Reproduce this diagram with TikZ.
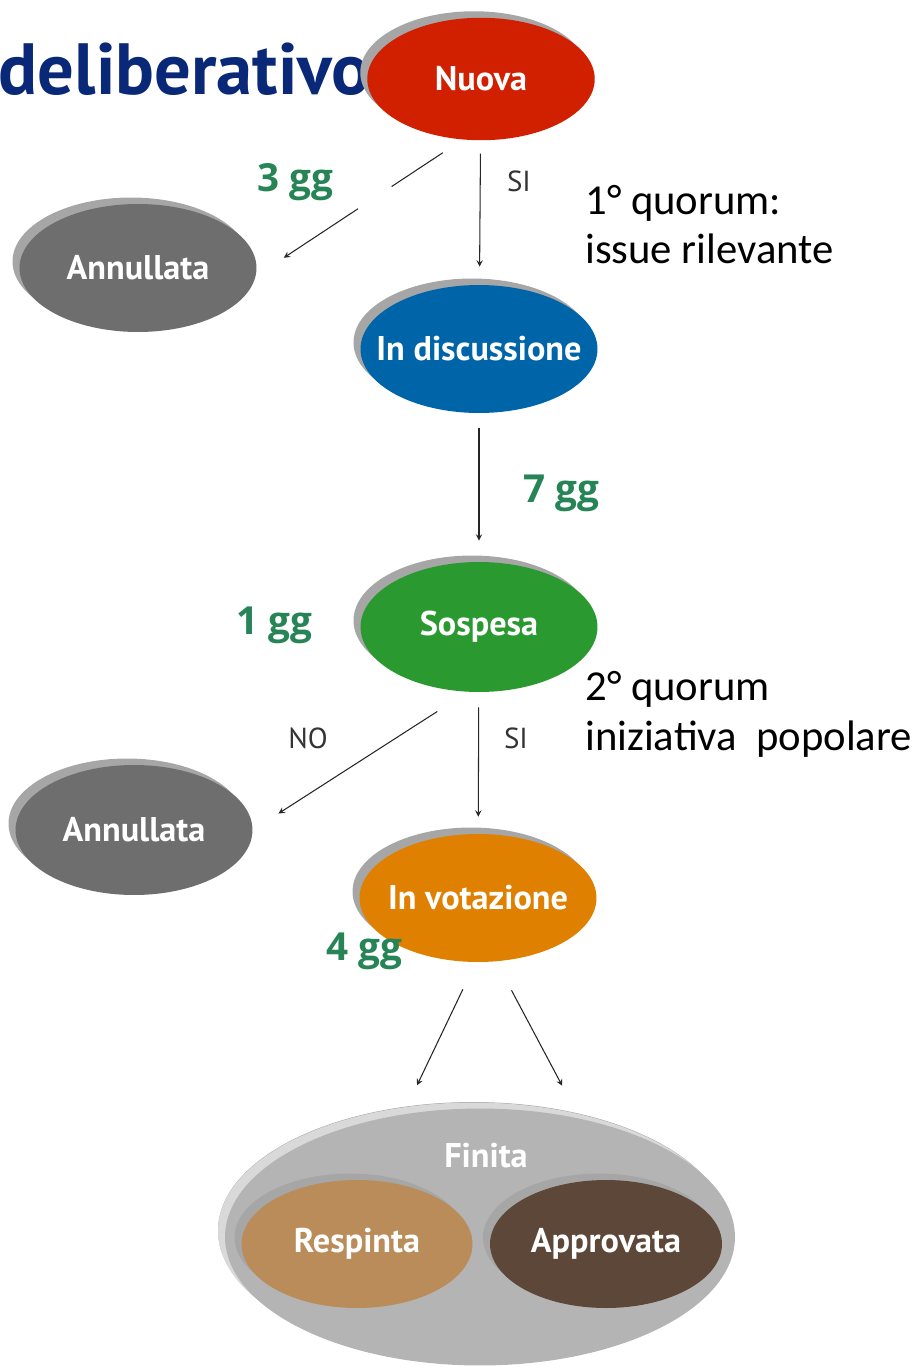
\documentclass[tikz,border=0pt]{standalone}
\usepackage{fontspec}
\usepackage{xcolor}
\usetikzlibrary{arrows,shapes.geometric,shadows,positioning}
\newfontfamily\ptsans{PT Sans}
\newfontfamily\opensans{Open Sans}
\newfontfamily\carlito{Carlito}
\definecolor{nuovared}{HTML}{D02000}
\definecolor{discblue}{HTML}{0064A8}
\definecolor{sospgreen}{HTML}{2A9A30}
\definecolor{votorange}{HTML}{E08000}
\definecolor{annulgrey}{HTML}{6E6E6E}
\definecolor{finitagrey}{HTML}{B4B4B4}
\definecolor{respintatan}{HTML}{B98C5A}
\definecolor{approvbrown}{HTML}{5D4738}
\definecolor{ggreen}{HTML}{278457}
\definecolor{titleblue}{HTML}{0A2878}

\begin{document}
\begin{tikzpicture}[x=0.02cm, y=-0.02cm,
statenode/.style={ellipse, draw=none, minimum width=4.74cm, minimum height=2.56cm, inner sep=-0.5cm,
  text=white, font=\ptsans\bfseries\fontsize{19.5}{23}\selectfont,
  general shadow={shadow xshift=-0.14cm, shadow yshift=0.13cm, fill=black!35}},
ggnode/.style={anchor=base, text=ggreen, font=\opensans\bfseries\fontsize{22}{26}\selectfont},
choicenode/.style={anchor=base, text=black!80, font=\ptsans\fontsize{16.5}{20}\selectfont},
quorumnode/.style={anchor=base west, inner sep=0pt, text=black, font=\carlito\fontsize{24.3}{28}\selectfont},
arr/.style={->, >=stealth, black!85, line width=0.6pt},
gapmark/.style={fill=white, sloped, minimum width=0.8cm, minimum height=0.3cm, inner sep=0pt},
]
\useasboundingbox (0,0) rectangle (917,1368);

%Title
\node[anchor=base east, inner sep=0pt, text=titleblue, font=\ptsans\bfseries\fontsize{41.3}{47}\selectfont] (title) at (371,95) {deliberativo};

%Nodes
\node[statenode, fill=nuovared, minimum width=4.55cm, minimum height=2.45cm] (nuova) at (481,79) {Nuova};
\node[statenode, fill=annulgrey] (annul1) at (138,268) {Annullata};
\node[statenode, fill=discblue] (disc) at (479,349) {In discussione};
\node[statenode, fill=sospgreen, minimum height=2.6cm] (sospesa) at (479,627) {Sospesa};
\node[statenode, fill=annulgrey, minimum height=2.6cm] (annul2) at (134,830) {Annullata};
\node[statenode, fill=votorange] (vot) at (478,898) {In votazione};

\node[statenode, fill=finitagrey, minimum width=10.2cm, minimum height=5.14cm,
  general shadow={shadow xshift=-0.14cm, shadow yshift=0.12cm, fill=black!15}] (finita) at (480,1237) {};
\node[text=white, font=\ptsans\bfseries\fontsize{19.5}{23}\selectfont] (finitalabel) at (486,1156) {Finita};
\node[statenode, fill=respintatan, minimum width=4.62cm] (respinta) at (357,1244) {Respinta};
\node[statenode, fill=approvbrown, minimum width=4.64cm] (approvata) at (606,1244) {Approvata};

%Labels
\node[ggnode] (gg3) at (295,192) {3 gg};
\node[ggnode] (gg7) at (561,502) {7 gg};
\node[ggnode] (gg1) at (274,634) {1 gg};
\node[ggnode] (gg4) at (364,960) {4 gg};
\node[choicenode] (si1) at (519,192) {SI};
\node[choicenode] (no2) at (308,748) {NO};
\node[choicenode] (si2) at (516,748) {SI};
\node[quorumnode] (q1a) at (585,215) {1° quorum:};
\node[quorumnode] (q1b) at (585,264) {issue rilevante};
\node[quorumnode] (q2a) at (585,700) {2° quorum};
\node[quorumnode] (q2b) at (585,750) {iniziativa\ \ popolare};

%Lines
\draw[arr, shorten <=0.47cm, shorten >=0.67cm] (nuova.253) -- node[gapmark, pos=0.424] (gap) {} (annul1.-4);
\draw[arr, shorten <=0.26cm, shorten >=0.36cm] (nuova) -- (disc);
\draw[arr, shorten <=0.3cm, shorten >=0.42cm] (disc) -- (sospesa);
\draw[arr, shorten <=0.72cm, shorten >=0.61cm] (sospesa.260) -- (annul2.east);
\draw[arr, shorten <=0.3cm, shorten >=0.34cm] (sospesa) -- (vot);
\draw[arr, shorten <=0.6cm, shorten >=0.64cm] (vot.268) -- (finita.122);
\draw[arr, shorten <=0.65cm, shorten >=0.74cm] (vot.-74) -- (finita.50);
\end{tikzpicture}
\end{document}
